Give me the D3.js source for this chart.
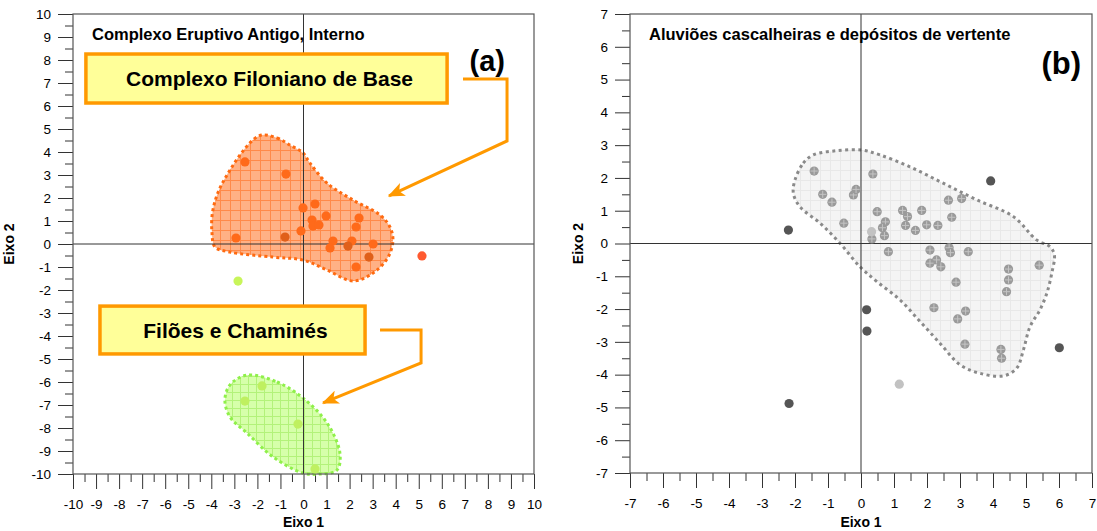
<html>
<head>
<style>
    body {
        margin: 0;
        background: #ffffff;
        font-family: "Liberation Sans", Arial, Helvetica, sans-serif;
    }
    text {
        font-family: "Liberation Sans", Arial, Helvetica, sans-serif;
    }
</style>
<script src="https://d3js.org/d3.v7.min.js"></script>
</head>
<body>
<svg id="chart"></svg>
<script>

// panel (a): Complexo Eruptivo Antigo, Interno
let filonianoPoints = [
    [-2.54, 3.57], [-0.76, 3.04], [-0.02, 1.57], [0.50, 1.74], [0.98, 1.22],
    [0.37, 1.04], [0.41, 0.78], [0.67, 0.83], [-0.11, 0.57], [-2.93, 0.26],
    [1.28, 0.13], [1.15, -0.17], [2.10, 0.13], [2.41, 1.13], [2.28, 0.74],
    [3.02, 0.00], [2.28, -1.00]
]
let filonianoDark = [[-0.80, 0.30], [1.93, -0.09], [2.84, -0.57]]
let filonianoOutlier = [[5.14, -0.52]]
let chaminePoints = [[-1.80, -6.17], [-2.54, -6.83], [-0.24, -7.83], [0.50, -9.78]]
let chamineOutlier = [[-2.84, -1.61]]

let filonianoHull = [
    [-1.93, 4.70], [-1.15, 4.61], [-0.59, 4.30], [-0.02, 3.96], [0.28, 3.52],
    [1.02, 2.65], [2.15, 1.91], [3.32, 1.26], [3.75, 0.74], [3.88, 0.17],
    [3.67, -0.57], [3.02, -1.26], [2.15, -1.61], [1.02, -1.13], [-0.02, -0.70],
    [-1.32, -0.57], [-3.19, -0.35], [-3.84, -0.13], [-3.97, 0.48], [-3.93, 1.48],
    [-3.49, 2.70]
]
let chamineHull = [
    [-2.45, -5.70], [-1.15, -6.00], [-0.02, -6.70], [1.02, -7.78], [1.58, -9.09],
    [1.45, -9.83], [0.72, -10.0], [-0.02, -9.96], [-1.32, -9.26], [-2.45, -8.22],
    [-3.19, -7.52], [-3.41, -6.78], [-3.19, -6.13]
]

// panel (b): Aluvioes cascalheiras e depositos de vertente
let aluvioesPoints = [
    [-1.42, 2.21], [-1.16, 1.50], [-0.88, 1.26], [-0.23, 1.48], [-0.15, 1.65],
    [0.36, 2.12], [-0.52, 0.62], [0.49, 0.97], [0.74, 0.66], [0.65, 0.48],
    [0.71, 0.24], [0.33, 0.14], [0.83, -0.25], [1.26, 1.01], [1.41, 0.82],
    [1.35, 0.55], [1.65, 0.40], [1.84, 1.01], [1.99, 0.57], [2.33, 0.55],
    [2.65, 1.32], [3.05, 1.37], [2.75, 0.80], [2.09, -0.20], [2.67, -0.13],
    [2.71, -0.28], [3.25, -0.25], [2.29, -0.50], [2.09, -0.60], [2.42, -0.71],
    [2.88, -1.18], [4.47, -0.78], [4.47, -1.11], [4.41, -1.47], [5.40, -0.66],
    [2.21, -1.96], [3.17, -2.06], [2.93, -2.30], [3.15, -3.07], [4.24, -3.23],
    [4.26, -3.50]
]
let aluvioesDark = [
    [3.93, 1.91], [-2.20, 0.41], [0.17, -2.02], [0.18, -2.67], [6.01, -3.18], [-2.18, -4.88]
]
let aluvioesLight = [[0.32, 0.36], [1.16, -4.29]]
let aluvioesHull = [
    [-2.00, 1.94], [-1.75, 2.45], [-1.45, 2.70], [-0.74, 2.83], [0.02, 2.85],
    [0.58, 2.70], [1.48, 2.34], [2.49, 1.84], [3.51, 1.33], [4.62, 0.82],
    [5.32, 0.11], [5.73, -0.10], [5.86, -0.35], [5.78, -0.91], [5.63, -1.52],
    [5.42, -2.03], [5.12, -2.54], [4.92, -3.25], [4.72, -3.80], [4.31, -4.04],
    [3.61, -3.96], [3.00, -3.70], [2.39, -3.04], [1.79, -2.38], [1.18, -1.72],
    [0.48, -1.16], [-0.03, -0.71], [-0.64, 0.01], [-1.24, 0.62], [-1.85, 1.12],
    [-2.05, 1.53]
]

// annotation boxes and connectors, in data units of panel (a)
let labelBoxes = [
    {text: "Complexo Filoniano de Base", x0: -9.44, x1: 6.23, y0: 6.13, y1: 8.26},
    {text: "Filões e Chaminés", x0: -8.83, x1: 2.67, y0: -4.78, y1: -2.70}
]
let connectors = [
    [[6.92, 7.17], [8.83, 7.17], [8.83, 4.48], [3.71, 2.09]],
    [[3.32, -3.74], [5.10, -3.74], [5.10, -5.17], [0.85, -6.91]]
]

let width = 1097
let height = 531

let svg = d3.select("#chart")
    .attr("width", width)
    .attr("height", height)

let defs = svg.append("defs")

function addGrid(id, bg, line, size) {
    let p = defs.append("pattern")
        .attr("id", id)
        .attr("patternUnits", "userSpaceOnUse")
        .attr("width", size)
        .attr("height", size)
    p.append("rect").attr("width", size).attr("height", size).attr("fill", bg)
    p.append("path")
        .attr("d", `M0,0.5 H${size} M0.5,0 V${size}`)
        .attr("stroke", line)
        .attr("stroke-width", 1)
}
addGrid("gridOrange", "#ffb185", "#ff8a4a", 10)
addGrid("gridGreen", "#d6ffaa", "#b3f27a", 8)
addGrid("gridGray", "#f4f4f4", "#e8e8e8", 10)

defs.append("marker")
    .attr("id", "arrowOrange")
    .attr("viewBox", "0 0 12 10")
    .attr("refX", 11)
    .attr("refY", 5)
    .attr("markerUnits", "userSpaceOnUse")
    .attr("markerWidth", 17)
    .attr("markerHeight", 14)
    .attr("orient", "auto")
    .append("path")
    .attr("d", "M0,0 L12,5 L0,10 L3,5 Z")
    .attr("fill", "#ff9900")

function makePanel(cfg) {
    let g = svg.append("g")
    let x = d3.scaleLinear().domain(cfg.xDomain).range(cfg.xRange)
    let y = d3.scaleLinear().domain(cfg.yDomain).range(cfg.yRange)

    let majorX = d3.range(cfg.xDomain[0], cfg.xDomain[1] + 0.01, 1)
    let minorX = d3.range(cfg.xDomain[0] + 0.5, cfg.xDomain[1], 1)
    let majorY = d3.range(cfg.yDomain[0], cfg.yDomain[1] + 0.01, 1)
    let minorY = d3.range(cfg.yDomain[0] + 0.5, cfg.yDomain[1], 1)

    let bottom = cfg.yRange[0]
    let left = cfg.xRange[0]

    let xMajor = g.append("g")
        .attr("transform", `translate(0,${bottom})`)
        .call(d3.axisBottom(x).tickValues(majorX).tickSize(15).tickPadding(10)
            .tickFormat(d => String(d)))
    let xMinor = g.append("g")
        .attr("transform", `translate(0,${bottom})`)
        .call(d3.axisBottom(x).tickValues(minorX).tickSize(8).tickFormat(""))
    let yMajor = g.append("g")
        .attr("transform", `translate(${left},0)`)
        .call(d3.axisLeft(y).tickValues(majorY).tickSize(15).tickPadding(7)
            .tickFormat(d => String(d)))
    let yMinor = g.append("g")
        .attr("transform", `translate(${left},0)`)
        .call(d3.axisLeft(y).tickValues(minorY).tickSize(8).tickFormat(""))

    ;[xMajor, xMinor, yMajor, yMinor].forEach(a => {
        a.select(".domain").remove()
        a.selectAll("line").attr("stroke", "#333")
        a.selectAll("text")
            .attr("fill", "#000")
            .style("font-size", "13.5px")
            .style("font-family", "'Liberation Sans', Arial, sans-serif")
    })

    return {g, x, y}
}

function drawFrame(p) {
    let [x0, x1] = p.x.range()
    let [y1, y0] = p.y.range()
    p.g.append("line")
        .attr("x1", x0).attr("x2", x1)
        .attr("y1", p.y(0)).attr("y2", p.y(0))
        .attr("stroke", "#333").attr("stroke-width", 1)
    p.g.append("line")
        .attr("x1", p.x(0)).attr("x2", p.x(0))
        .attr("y1", y0).attr("y2", y1)
        .attr("stroke", "#333").attr("stroke-width", 1)
    p.g.append("rect")
        .attr("x", x0).attr("y", y0)
        .attr("width", x1 - x0).attr("height", y1 - y0)
        .attr("fill", "none")
        .attr("stroke", "#555")
        .attr("stroke-width", 1.2)
}

function drawHull(p, pts, fill, stroke, dash) {
    let line = d3.line()
        .x(d => p.x(d[0]))
        .y(d => p.y(d[1]))
        .curve(d3.curveCatmullRomClosed.alpha(0.5))
    p.g.append("path")
        .attr("d", line(pts))
        .attr("fill", fill)
        .attr("stroke", stroke)
        .attr("stroke-width", 3)
        .attr("stroke-dasharray", dash)
}

function drawPoints(p, pts, color, r) {
    p.g.append("g").selectAll("circle").data(pts)
        .enter().append("circle")
        .attr("cx", d => p.x(d[0]))
        .attr("cy", d => p.y(d[1]))
        .attr("r", r)
        .attr("fill", color)
}

function drawHatchedPoints(p, pts, color, hatch, r) {
    let dots = p.g.append("g").selectAll("g").data(pts)
        .enter().append("g")
        .attr("transform", d => `translate(${p.x(d[0])},${p.y(d[1])})`)
    dots.append("circle").attr("r", r).attr("fill", color)
    dots.append("path")
        .attr("d", `M${-r + 1},0 H${r - 1} M0,${-r + 1} V${r - 1}`)
        .attr("stroke", hatch)
        .attr("stroke-width", 1)
}

function drawAxisTitles(p, yLabelX) {
    p.g.append("text")
        .attr("x", p.x(0))
        .attr("y", 527)
        .attr("text-anchor", "middle")
        .style("font-size", "14px")
        .style("font-weight", "bold")
        .text("Eixo 1")
    p.g.append("text")
        .attr("transform", `translate(${yLabelX},${p.y(0)}) rotate(-90)`)
        .attr("text-anchor", "middle")
        .style("font-size", "14px")
        .style("font-weight", "bold")
        .text("Eixo 2")
}

function drawTitle(p, title, tag, tagRight, tagBase, tagSize) {
    let [x0, x1] = p.x.range()
    let [y1, y0] = p.y.range()
    p.g.append("text")
        .attr("x", x0 + 19)
        .attr("y", y0 + 26)
        .style("font-size", "16.5px")
        .style("font-weight", "bold")
        .text(title)
    p.g.append("text")
        .attr("x", tagRight)
        .attr("y", tagBase)
        .attr("text-anchor", "end")
        .style("font-size", tagSize + "px")
        .style("font-weight", "bold")
        .text(tag)
}

// panel (a)
let pa = makePanel({xDomain: [-10, 10], xRange: [73, 534], yDomain: [-10, 10], yRange: [474, 14]})
drawHull(pa, filonianoHull, "url(#gridOrange)", "#ff6a10", "3,3")
drawHull(pa, chamineHull, "url(#gridGreen)", "#8ff04a", "3,3")
drawFrame(pa)
drawPoints(pa, filonianoPoints, "#ff6a1a", 4.6)
drawPoints(pa, filonianoDark, "#e0601a", 4.6)
drawPoints(pa, filonianoOutlier, "#ff5a30", 4.6)
drawPoints(pa, chamineOutlier, "#c8f55a", 4.6)
drawPoints(pa, chaminePoints, "#bff060", 4.6)
drawTitle(pa, "Complexo Eruptivo Antigo, Interno", "(a)", 505, 71, 29)
drawAxisTitles(pa, 14)

let boxes = pa.g.append("g")
boxes.selectAll("rect").data(labelBoxes)
    .enter().append("rect")
    .attr("x", d => pa.x(d.x0))
    .attr("y", d => pa.y(d.y1))
    .attr("width", d => pa.x(d.x1) - pa.x(d.x0))
    .attr("height", d => pa.y(d.y0) - pa.y(d.y1))
    .attr("fill", "#ffff99")
    .attr("stroke", "#ff9900")
    .attr("stroke-width", 3.5)
boxes.selectAll("text").data(labelBoxes)
    .enter().append("text")
    .attr("x", d => (pa.x(d.x0) + pa.x(d.x1)) / 2 + 3)
    .attr("y", d => (pa.y(d.y0) + pa.y(d.y1)) / 2)
    .attr("dy", "0.36em")
    .attr("text-anchor", "middle")
    .style("font-size", "21px")
    .style("font-weight", "bold")
    .text(d => d.text)

let connLine = d3.line().x(d => pa.x(d[0])).y(d => pa.y(d[1]))
pa.g.append("g").selectAll("path").data(connectors)
    .enter().append("path")
    .attr("d", d => connLine(d))
    .attr("fill", "none")
    .attr("stroke", "#ff9900")
    .attr("stroke-width", 3)
    .attr("marker-end", "url(#arrowOrange)")

// panel (b)
let pb = makePanel({xDomain: [-7, 7], xRange: [630, 1092], yDomain: [-7, 7], yRange: [473, 14]})
drawHull(pb, aluvioesHull, "url(#gridGray)", "#8a8a8a", "3,3.5")
drawFrame(pb)
drawHatchedPoints(pb, aluvioesPoints, "#9a9a9a", "#c4c4c4", 4.6)
drawPoints(pb, aluvioesDark, "#555555", 4.6)
drawPoints(pb, aluvioesLight, "#c2c2c2", 4.6)
drawTitle(pb, "Aluviões cascalheiras e depósitos de vertente", "(b)", 1081, 74, 31)
drawAxisTitles(pb, 583)

</script>
</body>
</html>
